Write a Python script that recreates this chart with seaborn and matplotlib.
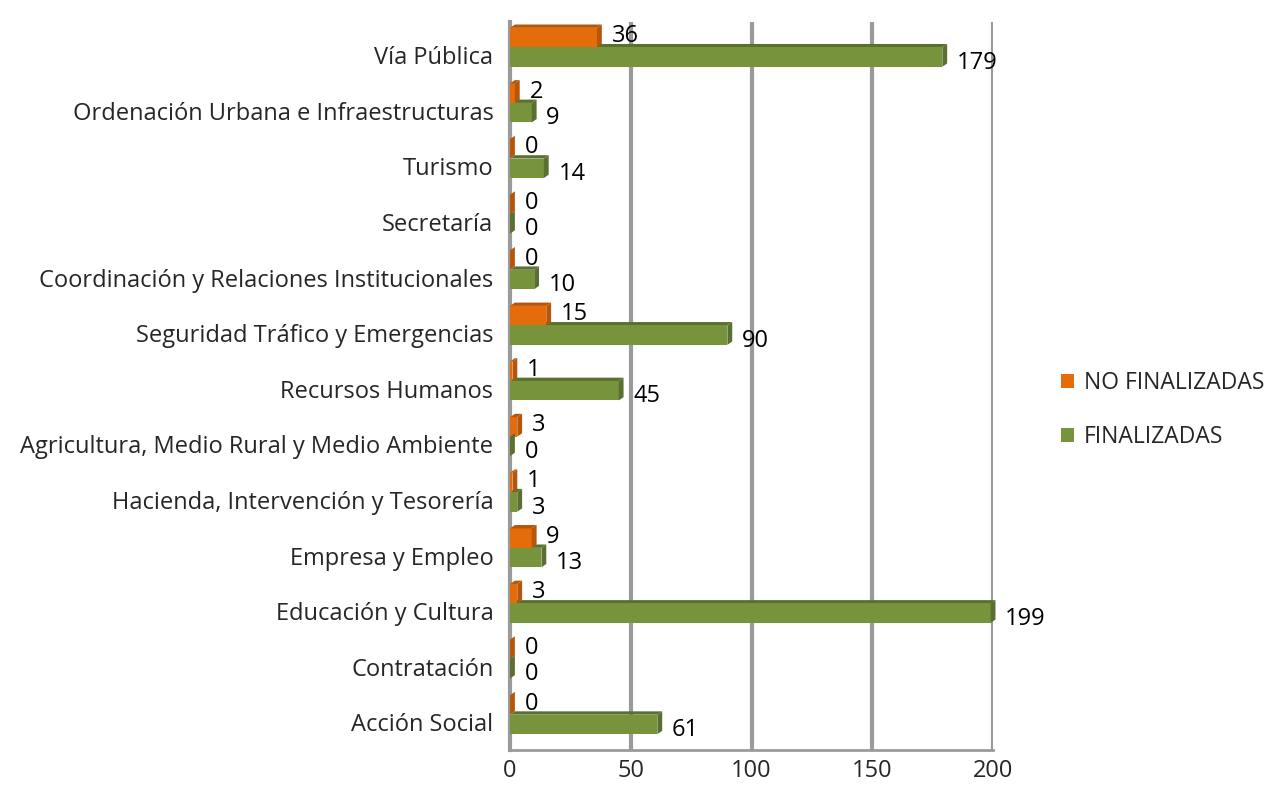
import matplotlib
matplotlib.use("Agg")
import matplotlib.pyplot as plt
from matplotlib.patches import Polygon
import seaborn as sns
import pandas as pd

categories = [
    "Vía Pública",
    "Ordenación Urbana e Infraestructuras",
    "Turismo",
    "Secretaría",
    "Coordinación y Relaciones Institucionales",
    "Seguridad Tráfico y Emergencias",
    "Recursos Humanos",
    "Agricultura, Medio Rural y Medio Ambiente",
    "Hacienda, Intervención y Tesorería",
    "Empresa y Empleo",
    "Educación y Cultura",
    "Contratación",
    "Acción Social",
]
no_finalizadas = [36, 2, 0, 0, 0, 15, 1, 3, 1, 9, 3, 0, 0]
finalizadas = [179, 9, 14, 0, 10, 90, 45, 0, 3, 13, 199, 0, 61]
series = ["NO FINALIZADAS", "FINALIZADAS"]
colors = {"NO FINALIZADAS": "#E46C0A", "FINALIZADAS": "#77933C"}
dark = ["#B5560A", "#5A7030"]
xticks = [0, 50, 100, 150, 200]

df = pd.DataFrame({
    "cat": categories * 2,
    "value": no_finalizadas + finalizadas,
    "serie": [series[0]] * len(categories) + [series[1]] * len(categories),
})

sns.set_theme(style="white")
plt.rcParams["font.family"] = ["Open Sans", "DejaVu Sans"]
FS = 17

fig = plt.figure(figsize=(12.88, 8.05), dpi=100)
ax = fig.add_axes([0.396, 0.068, 0.375, 0.905])

for v in xticks[1:]:
    ax.axvline(v, color="#9A9A9A", lw=3, zorder=0)

sns.barplot(data=df, y="cat", x="value", hue="serie", hue_order=series,
            palette=colors, saturation=1, orient="h", width=0.7, ax=ax,
            zorder=3, edgecolor="none", legend=True)

# pseudo-3D depth faces + value labels
d, e = 2.0, 0.06
label_dy = [1, -4]
for i, cont in enumerate(ax.containers):
    vals = [no_finalizadas, finalizadas][i]
    for bar, val in zip(cont, vals):
        w = bar.get_width()
        yt = bar.get_y()
        h = bar.get_height()
        top = Polygon([(0, yt), (w, yt), (w + d, yt - e), (d, yt - e)],
                      closed=True, fc=dark[i], ec="none",
                      zorder=2.5 + (1 - i), clip_on=False)
        side = Polygon([(w, yt), (w + d, yt - e), (w + d, yt + h - e), (w, yt + h)],
                       closed=True, fc=dark[i], ec="none", zorder=3.2,
                       clip_on=False)
        ax.add_patch(top)
        ax.add_patch(side)
        y = yt + h / 2
        ax.annotate(str(val), xy=(w + d, y), xytext=(7, label_dy[i]),
                    textcoords="offset points", va="center", ha="left",
                    fontsize=FS, color="black", zorder=5,
                    annotation_clip=False)

ax.set_xlim(0, 200)
ax.set_ylim(12.64, -0.46)
ax.set_yticks([k + 0.14 for k in range(len(categories))])
ax.set_yticklabels(categories)
ax.set_xticks(xticks)
ax.set_xlabel("")
ax.set_ylabel("")
ax.tick_params(axis="x", length=0, pad=6, labelsize=FS)
ax.tick_params(axis="y", length=0, pad=12, labelsize=FS)
for s in ["top", "right"]:
    ax.spines[s].set_visible(False)
ax.spines["left"].set_color("#9A9A9A")
ax.spines["left"].set_linewidth(3)
ax.spines["bottom"].set_color("#9A9A9A")
ax.spines["bottom"].set_linewidth(2)

leg = ax.legend(loc="center left", bbox_to_anchor=(1.098, 0.467), frameon=False,
                fontsize=FS - 0.5, handlelength=0.55, handleheight=0.55,
                handletextpad=0.45, labelspacing=1.3)

fig.savefig("out.png", dpi=100)
